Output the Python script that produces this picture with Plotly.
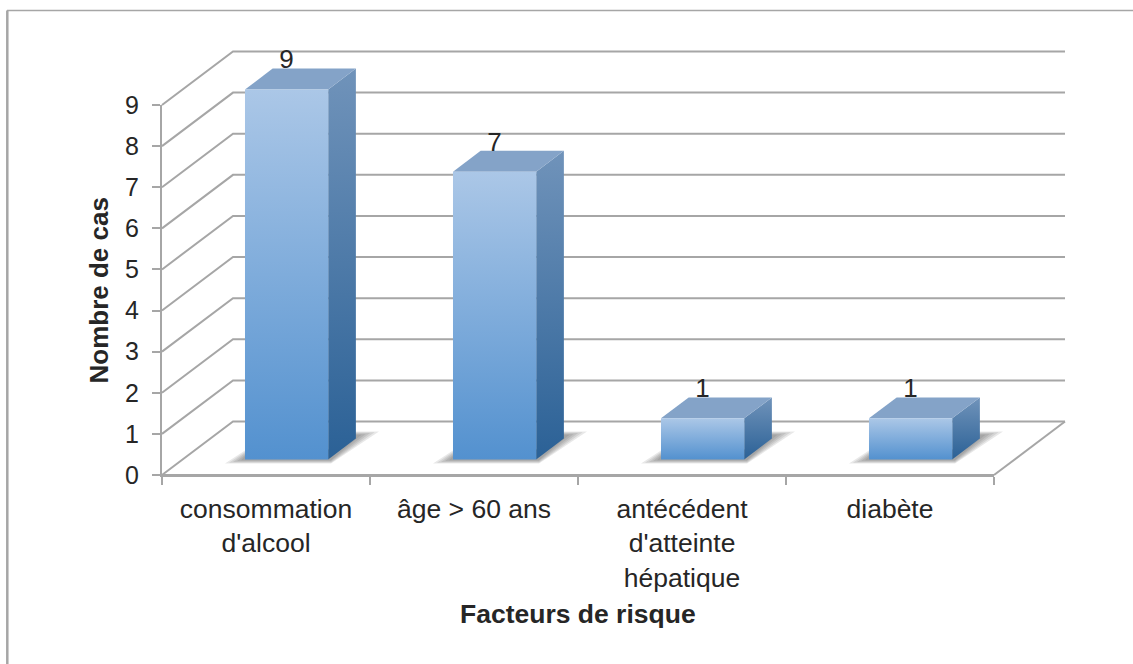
import plotly.graph_objects as go

categories = ["consommation<br>d'alcool", "âge > 60 ans", "antécédent<br>d'atteinte<br>hépatique", "diabète"]
values = [9, 7, 1, 1]
y_ticks = list(range(0, 10))

W, H = 1133, 664
L, R, T, B = 162, 994, 105, 475
PX_X = (R - L) / 4   # pixels per category
PX_Y = (B - T) / 9   # pixels per unit
FONT = "Liberation Sans"
TXT = "#262626"
GRID = "#A6A6A6"
DX, DY = 71 / PX_X, 53.5 / PX_Y   # full depth of the floor, in axis units
Z0, Z1 = 0.29, 0.68               # bar depth span
HALF = 0.2


def pr(x, y, z=0.0):
    return x + z * DX, y + z * DY


def add(trace):
    trace.update(xaxis="x2", yaxis="y2", hoverinfo="skip", showlegend=False, cliponaxis=False)
    fig.add_trace(trace)


def poly(pts, **kw):
    xs = [p[0] for p in pts] + [pts[0][0]]
    ys = [p[1] for p in pts] + [pts[0][1]]
    return go.Scatter(x=xs, y=ys, mode="lines", fill="toself", line=dict(width=0), **kw)


fig = go.Figure()

# baseline on the visible axes (keeps that subplot alive)
fig.add_trace(go.Scatter(x=[0, 4], y=[0, 0], mode="lines", line=dict(color=GRID, width=2),
                         hoverinfo="skip", showlegend=False, cliponaxis=False))

# walls: grid lines
for v in y_ticks:
    a = pr(0, v)
    b = pr(0, v, 1)
    c = pr(4, v, 1)
    add(go.Scatter(x=[a[0], b[0], c[0]], y=[a[1], b[1], c[1]], mode="lines",
                   line=dict(color=GRID, width=2)))
a, b = pr(4, 0), pr(4, 0, 1)
add(go.Scatter(x=[a[0], b[0]], y=[a[1], b[1]], mode="lines", line=dict(color=GRID, width=2)))

# bars
for i, v in enumerate(values):
    c = i + 0.5
    l, r = c - HALF, c + HALF
    bx, by = pr(l, 0, Z0)
    # soft floor shadow
    for g in (1.0, 0.8, 0.6, 0.4, 0.2):
        shadow = [(-20 * g, -4 * g), (86, -4 * g), (112 + 22 * g, 24 + 4 * g),
                  (107, 24 + 4 * g), (84, 10), (0, 2 + 7 * g)]
        add(poly([(bx + px / PX_X, by + py / PX_Y) for px, py in shadow],
                 fillcolor="rgba(80,80,80,0.13)"))
    # right side
    add(poly([pr(r, 0, Z0), pr(r, v, Z0), pr(r, v, Z1), pr(r, 0, Z1)],
             fillgradient=dict(type="vertical", colorscale=[[0, "#2B6196"], [1, "#7093BA"]])))
    # top
    add(poly([pr(l, v, Z0), pr(r, v, Z0), pr(r, v, Z1), pr(l, v, Z1)], fillcolor="#84A3C8"))
    # front
    add(poly([pr(l, 0, Z0), pr(r, 0, Z0), pr(r, v, Z0), pr(l, v, Z0)],
             fillgradient=dict(type="vertical", colorscale=[[0, "#5391CF"], [1, "#ABC7E7"]])))

# value labels
add(go.Scatter(
    x=[pr(i + 0.5, 0, Z0)[0] for i in range(len(values))],
    y=[v + pr(0, 0, Z0)[1] + 0.67 for v in values],
    mode="text", text=[str(v) for v in values], textposition="middle center",
    textfont=dict(family=FONT, size=26, color=TXT)))

fig.update_layout(
    width=W, height=H,
    margin=dict(l=0, r=0, t=0, b=0, pad=0, autoexpand=False),
    paper_bgcolor="white", plot_bgcolor="rgba(0,0,0,0)",
    showlegend=False,
    xaxis=dict(domain=[L / W, R / W], range=[0, 4], tickmode="array",
               tickvals=[i + 0.5 for i in range(4)], ticktext=categories, ticks="",
               showgrid=False, zeroline=False, showline=True, linecolor=GRID, linewidth=2,
               tickfont=dict(family=FONT, size=26.5, color=TXT), ticklabelstandoff=9,
               minor=dict(tickmode="array", tickvals=[0, 1, 2, 3, 4], ticks="outside",
                          ticklen=8, tickcolor=GRID, tickwidth=2, showgrid=False)),
    yaxis=dict(domain=[(H - B) / H, (H - T) / H], range=[0, 9], tickmode="array",
               tickvals=y_ticks, ticks="outside", ticklen=8, tickcolor=GRID, tickwidth=2,
               showgrid=False, zeroline=False, showline=True, linecolor=GRID, linewidth=2,
               tickfont=dict(family=FONT, size=25, color=TXT), ticklabelstandoff=8),
    xaxis2=dict(domain=[0, 1], range=[-L / PX_X, (W - L) / PX_X], visible=False,
                anchor="y2", fixedrange=True),
    yaxis2=dict(domain=[0, 1], range=[-(H - B) / PX_Y, B / PX_Y], visible=False,
                anchor="x2", fixedrange=True),
    annotations=[
        dict(text="<b>Facteurs de risque</b>", xref="paper", yref="paper",
             x=(L + R) / 2 / W, y=1 - 614 / H, xanchor="center", yanchor="middle",
             showarrow=False, font=dict(family=FONT, size=26.5, color=TXT)),
        dict(text="<b>Nombre de cas</b>", xref="paper", yref="paper",
             x=98 / W, y=1 - 290.5 / H, textangle=-90,
             xanchor="center", yanchor="middle", showarrow=False,
             font=dict(family=FONT, size=26, color=TXT)),
    ],
    shapes=[
        dict(type="line", xref="paper", yref="paper", x0=7 / W, x1=1,
             y0=1 - 10.5 / H, y1=1 - 10.5 / H, line=dict(color=GRID, width=1.5)),
        dict(type="line", xref="paper", yref="paper", x0=7.3 / W, x1=7.3 / W,
             y0=0, y1=1 - 10.5 / H, line=dict(color=GRID, width=2.5)),
    ],
)

fig.write_html("out.html", config={"displayModeBar": False},
               post_script="document.body.style.margin='0';")
